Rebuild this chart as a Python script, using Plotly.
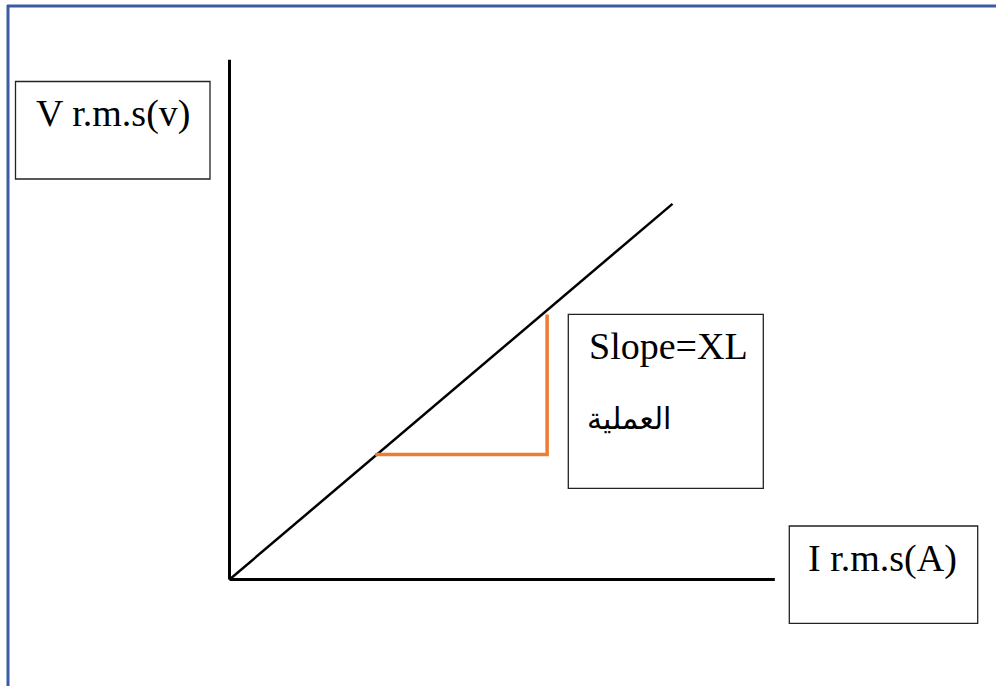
import plotly.graph_objects as go

# Schematic data (arbitrary units)
axis_x_I = [0, 12.31]
axis_x_V = [0, 0]
axis_y_I = [0, 0]
axis_y_V = [0, 11.73]
line_I = [0, 10.0]
line_V = [0, 8.48]
slope_I = [3.29, 7.17, 7.17]
slope_V = [2.82, 2.82, 5.98]

label_y = "V r.m.s(v)"
label_x = "I r.m.s(A)"
label_slope = "Slope=XL"
label_slope_ar = "العملية"

W, H = 996, 686
def px(x):
    return x / W
def py(y):
    return 1 - y / H

fig = go.Figure()
fig.add_trace(go.Scatter(x=axis_x_I, y=axis_x_V, mode="lines",
                         line=dict(color="black", width=3), hoverinfo="skip"))
fig.add_trace(go.Scatter(x=axis_y_I, y=axis_y_V, mode="lines",
                         line=dict(color="black", width=3), hoverinfo="skip"))
fig.add_trace(go.Scatter(x=line_I, y=line_V, mode="lines",
                         line=dict(color="black", width=2.5), hoverinfo="skip"))
fig.add_trace(go.Scatter(x=slope_I, y=slope_V, mode="lines",
                         line=dict(color="#ED7D31", width=3.5), hoverinfo="skip"))

shapes = []
# blue page border (top & left)
shapes.append(dict(type="line", xref="paper", yref="paper", x0=px(7), x1=1, y0=py(6), y1=py(6),
                   line=dict(color="#3a5ca4", width=3)))
shapes.append(dict(type="line", xref="paper", yref="paper", x0=px(8), x1=px(8), y0=py(5), y1=0,
                   line=dict(color="#3a5ca4", width=3)))
# label boxes
for (l, t, r, b) in [(15.5, 81.5, 210, 179), (568.3, 314.3, 763.3, 488.3), (789.3, 526, 977.7, 623.3)]:
    shapes.append(dict(type="rect", xref="paper", yref="paper", x0=px(l), x1=px(r), y0=py(b), y1=py(t),
                       line=dict(color="#222222", width=1.3), fillcolor="rgba(0,0,0,0)"))

font = dict(family="Liberation Serif, Times New Roman, DejaVu Sans", size=38, color="black")
annotations = [
    dict(text=label_y, x=px(112.5), y=py(113), xref="paper", yref="paper", showarrow=False,
         xanchor="center", yanchor="middle", font=font),
    dict(text=label_slope, x=px(587), y=py(346), xref="paper", yref="paper", showarrow=False,
         xanchor="left", yanchor="middle", font=font),
    dict(text=label_slope_ar, x=px(585), y=py(418), xref="paper", yref="paper", showarrow=False,
         xanchor="left", yanchor="middle", font=dict(family="DejaVu Sans, Noto Sans", size=30, color="black")),
    dict(text=label_x, x=px(882), y=py(558), xref="paper", yref="paper", showarrow=False,
         xanchor="center", yanchor="middle", font=font),
]

scale = 44.3
fig.update_layout(
    width=W, height=H, margin=dict(l=0, r=0, t=0, b=0),
    paper_bgcolor="white", plot_bgcolor="white", showlegend=False,
    shapes=shapes, annotations=annotations, hovermode=False,
    xaxis=dict(range=[-229.5 / scale, (W - 229.5) / scale], visible=False, fixedrange=True),
    yaxis=dict(range=[(579.5 - H) / scale, 579.5 / scale], visible=False, fixedrange=True),
)
fig.write_html("out.html", config={"displayModeBar": False},
               post_script="document.body.style.margin='0';document.body.style.overflow='hidden';")
